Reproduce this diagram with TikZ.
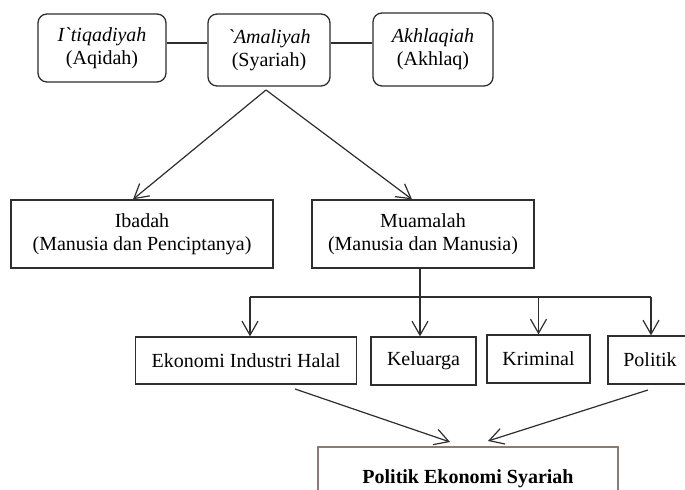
\documentclass[tikz,border=0pt]{standalone}
\usepackage{fontspec}
\setmainfont{Liberation Serif}
\usetikzlibrary{arrows.meta}
\definecolor{ln}{HTML}{2E2E2E}
\definecolor{brn}{HTML}{8C7B73}
\begin{document}
\begin{tikzpicture}[x=0.5pt,y=-0.5pt,
  box/.style={draw=ln,line width=0.65pt,align=center,inner sep=0pt,font=\fontsize{10}{11.5}\selectfont},
  rbox/.style={box,rounded corners=4.5pt},
  arr/.style={draw=ln,line width=0.6pt,-{Straight Barb[length=7pt,width=8pt]}},
  conn/.style={draw=ln,line width=0.6pt}]
\clip (0,0) rectangle (685,490);
\fill[white] (0,0) rectangle (685,490);
% top row
\node[rbox,minimum width=64pt,minimum height=34pt] (itq) at (102,48) {\textit{I\textasciigrave tiqadiyah}\\(Aqidah)};
\node[rbox,minimum width=61pt,minimum height=36pt] (ama) at (269,50) {\textit{\textasciigrave Amaliyah}\\(Syariah)};
\node[rbox,minimum width=60pt,minimum height=36.5pt] (akh) at (433,49.5) {\textit{Akhlaqiah}\\(Akhlaq)};
\coordinate (yl) at (0,43);
\draw[conn] (itq.east |- yl) -- (ama.west |- yl);
\draw[conn] (ama.east |- yl) -- (akh.west |- yl);
% second row
\node[box,minimum width=131pt,minimum height=34pt] (ibd) at (142,234) {Ibadah\\(Manusia dan Penciptanya)};
\node[box,minimum width=111pt,minimum height=34pt] (mua) at (423,234) {Muamalah\\(Manusia dan Manusia)};
\coordinate (apex) at (266,90);
\coordinate (ta) at (133,0);
\coordinate (tb) at (412,0);
\draw[arr] (apex) -- (ibd.north -| ta);
\draw[arr] (apex) -- (mua.north -| tb);
% third row
\node[box,minimum width=110.5pt,minimum height=23.5pt] (eko) at (246,360.5) {Ekonomi Industri Halal};
\node[box,minimum width=52.5pt,minimum height=24pt] (kel) at (423.5,361) {Keluarga};
\node[box,minimum width=51.5pt,minimum height=24pt] (kri) at (538.5,359) {Kriminal};
\node[box,minimum width=42pt,minimum height=24pt] (pol) at (650,360) {Politik};
\coordinate (busl) at (250,297);
\coordinate (busr) at (651,297);
\coordinate (vx) at (420,0);
\draw[conn] (busl) -- (busr);
\draw[arr] (mua.south -| vx) -- (kel.north -| vx);
\draw[arr] (busl) -- (eko.north -| busl);
\draw[arr] (kri.north |- busl) -- (kri.north);
\draw[arr] (busr) -- (pol.north -| busr);
% bottom
\node[draw=brn,line width=0.8pt,inner sep=0pt,minimum width=150pt,minimum height=31.5pt,font=\fontsize{10}{12}\selectfont\bfseries] (pes) at (468,478.5) {Politik Ekonomi Syariah};
\coordinate (s1) at (295,389);
\coordinate (s2) at (648,390);
\coordinate (t1) at (450,442);
\coordinate (t2) at (488,441);
\draw[arr] (s1) -- (t1);
\draw[arr] (s2) -- (t2);
\end{tikzpicture}
\end{document}
